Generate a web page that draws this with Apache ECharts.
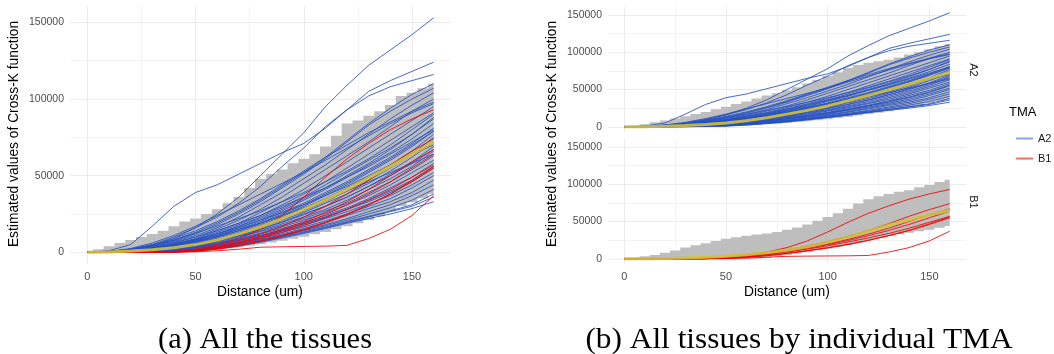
<!DOCTYPE html>
<html>
<head>
<meta charset="utf-8">
<script src="https://cdn.jsdelivr.net/npm/echarts@6/dist/echarts.min.js"></script>
<style>
html,body{margin:0;padding:0;background:#fff}
#main{width:1054px;height:354px}
</style>
</head>
<body>
<div id="main"></div>
<script>
// distances (um) for the curves, and finer ones for the envelopes
var dist = [0,10,20,30,40,50,60,70,80,90,100,110,120,130,140,150,160];
var distFine = [0,5,10,15,20,25,30,35,40,45,50,55,60,65,70,75,80,85,90,95,100,105,110,115,120,125,130,135,140,145,150,155,160];
var xTicks = [0,50,100,150];
var xMinor = [25,75,125];
var yTicks = [0,50000,100000,150000];
var yMinor = [25000,75000,125000];

// estimated K values (thousands) - TMA A2 tissues
var a2Lines = [
  [0,0.3,1.5,4,9,16,25,36,50,64,78,95,109,122,132,142,153],
  [0,1,5,17,30,39,44,51,58,65,71,81,93,105,112,118,124],
  [0,0.5,2,5,10,16,23,32,43,56,68,82,93,102,108,112,116],
  [0,0.5,2,4.5,8,13,19,26,34,43,52,62,73,84,94,103,110],
  [0,0.4,1.8,4,7.5,12,18,25,33,42,51,61,72,83,92,100,107],
  [0,0.3,1.5,3.5,7,11,16,23,31,39,48,57,67,77,87,96,104],
  [0,0.3,1.2,3,6,10,15,21,28,36,45,54,63,72,82,92,100],
  [0,0.2,1,2.8,5.5,9,14,19,26,33,41,50,59,68,77,86,95],
  [0,0.2,1,2.5,5,8.5,13,18,24,31,38,46,55,64,73,82,91],
  [0,0.2,0.9,2.3,4.6,8,12,17,23,29,36,44,52,60,68,77,87],
  [0,0.2,0.8,2,4.2,7.3,11,16,21,27,34,41,49,57,65,74,84],
  [0,0.1,0.7,1.9,4,7,10.5,15,20,26,32,39,46,54,62,71,81],
  [0,0.1,0.6,1.7,3.6,6.5,10,14,19,24,30,37,44,52,60,69,79],
  [0,0.1,0.6,1.6,3.4,6,9.2,13,18,23,29,35,42,49,57,66,77],
  [0,0.1,0.5,1.5,3.2,5.6,8.8,12.5,17,22,27,33,40,47,55,64,75],
  [0,0.1,0.5,1.4,3,5.3,8.3,12,16,21,26,32,38,45,53,62,72],
  [0,0.1,0.5,1.3,2.8,5,7.8,11,15,20,25,30,36,43,51,59,69],
  [0,0.1,0.4,1.2,2.6,4.6,7.3,10.5,14,18.5,23,28,34,41,48,56,66],
  [0,0.1,0.4,1.1,2.4,4.3,6.8,10,13.5,17.5,22,27,32,39,46,54,63],
  [0,0,0.3,1,2.2,4,6.3,9.3,12.5,16.5,21,25.5,31,37,44,52,60],
  [0,0,0.3,0.9,2,3.7,5.9,8.7,12,15.5,19.5,24,29,35,42,49,58],
  [0,0,0.3,0.8,1.8,3.4,5.5,8.2,11,14.5,18.5,23,28,33,39,46,55],
  [0,0,0.2,0.7,1.6,3.1,5,7.6,10.5,13.8,17.5,22,26.5,31.5,37,44,52],
  [0,0,0.2,0.6,1.4,2.8,4.6,7,9.8,13,16.5,20.5,25,30,35,42,50],
  [0,0,0.2,0.5,1.2,2.5,4.2,6.4,9,12,15.5,19.5,24,28.5,33,39,47],
  [0,0,0.1,0.4,1,2.2,3.8,5.9,8.4,11.3,14.5,18,22,26.5,31,37,44],
  [0,0,0.1,0.3,0.8,1.8,3.4,5.5,8,10.8,14,17.3,21,25,29,34,41],
  [0,0,0.1,0.3,0.6,1.5,3,5,7.5,10.3,13.3,16.5,20,23.5,27,31,38],
  [0,0,0,0.2,0.5,1.2,2.7,4.7,7,9.8,12.8,16,19.5,23,26.5,30,36],
  [0,0,0,0.1,0.3,0.8,2.2,4.2,6.5,9.3,12.3,15.5,19,22,25,28.5,33],
  [0,0.5,2,4.5,8,12.5,17,22,27,33,39,46,53,61,70,80,90],
  [0,0.4,1.5,3.5,6.5,10,14,19,24,30,36,42,49,56,64,72,80],
  [0,0.3,1.2,3,5.5,8.5,12,16,21,26,31,37,43,50,57,64,70],
  [0,0.3,1,2.5,4.8,7.5,11,15,19,24,29,34,40,46,52,58,64],
  [0,0.5,2.5,6,11,17,24,31,38,45,52,60,68,76,84,91,97],
  [0,0.4,2,5,9,14,20,27,35,44,53,62,70,78,85,92,98],
  [0,0.2,1,2.6,5,8,12,17,22,28,35,42,50,58,67,77,88],
  [0,0.1,0.6,1.8,3.8,6.6,10,14,19,25,31,38,45,53,61,70,79],
  [0,0.1,0.4,1.2,2.6,4.8,7.5,11,15,19.5,24.5,30,36,43,50,58,67],
  [0,0,0.2,0.7,1.7,3.2,5.3,8,11,14.5,18.5,23,28,34,40,47,56]
];

// estimated K values (thousands) - TMA B1 tissues
var b1Lines = [
  [0,0,0,0,0.5,2,5,9,15,24,36,49,61,71,80,87,93],
  [0,0,0,0,0.3,1.5,4,7.5,12,17,23,30,38,47,57,66,74],
  [0,0,0,0,0.3,1.2,3.5,6.5,10.5,15,20,26,33,41,50,59,67],
  [0,0,0,0,0.2,1,3,6,9.5,14,19,24.5,31,38,46,55,64],
  [0,0,0,0,0.2,1,2.8,5.5,9,13,17.5,22.5,28,34,41,49,57],
  [0,0,0,0,0.1,0.8,2.3,4.5,7.5,11,15,19.5,25,31,38,46,55],
  [0,0,0,0,0,0.3,1,2,3.3,3.6,3.8,4,4.5,9,15,24,37],
  [0,0,0,0,0.1,0.6,2,4,7,10.5,14.5,19,24.5,31,38,47,56]
];

// mean curves (thousands)
var meanAll = [0,0.2,0.8,1.7,3,5,8,12,16.5,22,28,34,41,48.5,56,64,72];
var meanA2 = [0,0.2,0.8,1.7,3,5,8,12,17,22,28,35,42,49.5,57,65,73];
var meanB1 = [0,0.1,0.4,1,2,3.5,5.5,8,11.5,16,22,29,37,45,52,59,65];

// envelopes (thousands), on distFine
var ribAllHi = [0,2,4,6,8,10,12,14,17,20,22,25,28,32,36,42,48,51,54,58,61,64,69,76,84,86,89,92,96,102,104,107,110];
var ribAllLo = [0,0,0,0,0,0,0,0,0,0.3,0.7,1.2,1.8,2.5,3.3,4.2,5.2,6.3,7.5,8.8,10.2,11.7,13.3,15,17,19,21,23.5,27,30,32.5,35,38];
var ribA2Hi = [0,1.5,3.5,6,8.5,11,14,17,20,23.5,27,30.5,34,38,42,45,49,53,58,63,68,73,79,83,86,88,90,93,97,100,104,108,111];
var ribA2Lo = [0,0,0,0,0,0,0,0,0,0.3,0.7,1.2,1.8,2.5,3.3,4.2,5.2,6.3,7.5,8.8,10.2,11.7,13.3,15,17,19,21,23.5,26,29,32,34.5,37];
var ribB1Hi = [0,1.5,3.5,5,8,11,15,18,21,24,27,29,31,32.5,34,36,39,42,46,51,56,61,67,74,80,84,87,90,92,96,99,103,106];
var ribB1Lo = [0,0,0,0,0,0,0,0,0,0,0,0,0,0.5,1.5,3,5,7,9,11,13.5,16,19,22,25,28,31,33,35,37,39,41.5,44];

var blue = '#2550c2';
var red = '#f20000';
var yellow = '#d2c035';
var font = 'Liberation Sans, Arial, sans-serif';

var chart = echarts.init(document.getElementById('main'));

function pairs(xs, ys) {
  return xs.map(function (x, i) { return [x, ys[i] * 1000]; });
}

// grid 0 = (a), grid 1 = (b) A2, grid 2 = (b) B1
var grids = [
  {left: 70, top: 6, width: 381, height: 258},
  {left: 608, top: 7, width: 358, height: 125.5},
  {left: 608, top: 139, width: 358, height: 125.5}
];

var xAxes = [], yAxes = [];
// main axes 0..2, minor grid axes 3..5
[0, 1, 2].forEach(function (g) {
  xAxes.push({
    gridIndex: g, type: 'value', min: -8, max: 168,
    axisLine: {show: false},
    axisTick: {show: false, customValues: xTicks},
    axisLabel: {show: g !== 1, customValues: xTicks, color: '#4d4d4d', fontSize: 11, fontFamily: font, margin: 7},
    splitLine: {lineStyle: {color: '#ebebeb', width: 1}}
  });
  yAxes.push({
    gridIndex: g, type: 'value', min: -7650, max: 160650,
    axisLine: {show: false},
    axisTick: {show: false, customValues: yTicks},
    axisLabel: {customValues: yTicks, color: '#4d4d4d', fontSize: 10.5, fontFamily: font, margin: 6,
      formatter: function (v) { return String(v); }},
    splitLine: {lineStyle: {color: '#ebebeb', width: 1}}
  });
});
[0, 1, 2].forEach(function (g) {
  xAxes.push({
    gridIndex: g, type: 'value', min: -8, max: 168, position: 'top',
    axisLine: {show: false}, axisLabel: {show: false},
    axisTick: {show: false, customValues: xMinor},
    splitLine: {lineStyle: {color: '#f3f3f3', width: 1}}
  });
  yAxes.push({
    gridIndex: g, type: 'value', min: -7650, max: 160650, position: 'right',
    axisLine: {show: false}, axisLabel: {show: false},
    axisTick: {show: false, customValues: yMinor},
    splitLine: {lineStyle: {color: '#f3f3f3', width: 1}}
  });
});

var series = [];

// grey envelope as one stepped polygon (upper edge forward, lower edge back)
function addRibbon(g, lo, hi) {
  var n = distFine.length;
  function edges(i) {
    var l = i === 0 ? distFine[0] : (distFine[i - 1] + distFine[i]) / 2;
    var r = i === n - 1 ? distFine[n - 1] : (distFine[i] + distFine[i + 1]) / 2;
    return [l, r];
  }
  series.push({
    type: 'custom', xAxisIndex: g, yAxisIndex: g, silent: true, z: 1,
    data: pairs(distFine, hi),
    renderItem: function (params, api) {
      if (params.dataIndex !== 0) return;
      var pts = [];
      for (var i = 0; i < n; i++) {
        var e = edges(i);
        pts.push(api.coord([e[0], hi[i] * 1000]));
        pts.push(api.coord([e[1], hi[i] * 1000]));
      }
      for (var j = n - 1; j >= 0; j--) {
        var f = edges(j);
        pts.push(api.coord([f[1], lo[j] * 1000]));
        pts.push(api.coord([f[0], lo[j] * 1000]));
      }
      return {type: 'polygon', shape: {points: pts}, style: {fill: '#bebebe'}};
    }
  });
}

function addLines(g, lines, name, color) {
  lines.forEach(function (ys) {
    series.push({
      name: name, type: 'line', xAxisIndex: g, yAxisIndex: g,
      data: pairs(dist, ys), symbol: 'none', silent: true,
      lineStyle: {color: color, width: 1, opacity: 0.85}, itemStyle: {color: color}, z: 2
    });
  });
}

function addMean(g, ys) {
  series.push({
    type: 'line', xAxisIndex: g, yAxisIndex: g,
    data: pairs(dist, ys), symbol: 'none', silent: true,
    lineStyle: {color: yellow, width: 3, opacity: 0.9}, z: 3
  });
}

addRibbon(0, ribAllLo, ribAllHi);
addLines(0, a2Lines, 'A2', blue);
addLines(0, b1Lines, 'B1', red);
addMean(0, meanAll);

addRibbon(1, ribA2Lo, ribA2Hi);
addLines(1, a2Lines, 'A2', blue);
addMean(1, meanA2);

addRibbon(2, ribB1Lo, ribB1Hi);
addLines(2, b1Lines, 'B1', red);
addMean(2, meanB1);

function txt(x, y, s, opt) {
  return {
    type: 'text', x: x, y: y, rotation: opt.rot || 0, scaleX: opt.sx || 1, silent: true,
    style: {text: s, fill: opt.color || '#000', font: opt.font,
      align: opt.align || 'center', verticalAlign: 'middle'}
  };
}

var option = {
  animation: false,
  backgroundColor: '#fff',
  grid: grids,
  xAxis: xAxes,
  yAxis: yAxes,
  legend: {
    data: [
      {name: 'A2', icon: 'rect', itemStyle: {color: '#8aa3e6'}},
      {name: 'B1', icon: 'rect', itemStyle: {color: '#ff6a6a'}}
    ],
    orient: 'vertical', left: 1011, top: 128,
    itemWidth: 17, itemHeight: 2, itemGap: 9,
    textStyle: {fontSize: 11, color: '#1a1a1a', fontFamily: font},
    selectedMode: false
  },
  graphic: [
    txt(14, 134, 'Estimated values of Cross-K function', {rot: Math.PI / 2, font: '13.8px ' + font}),
    txt(260, 292, 'Distance (um)', {font: '13.8px ' + font}),
    txt(552, 134, 'Estimated values of Cross-K function', {rot: Math.PI / 2, font: '13.8px ' + font}),
    txt(787, 292, 'Distance (um)', {font: '13.8px ' + font}),
    txt(973, 70, 'A2', {rot: -Math.PI / 2, font: '11px ' + font, color: '#1a1a1a'}),
    txt(973, 202, 'B1', {rot: -Math.PI / 2, font: '11px ' + font, color: '#1a1a1a'}),
    txt(1009, 112, 'TMA', {align: 'left', font: '13px ' + font}),
    txt(265, 340, '(a) All the tissues', {font: '29px "Liberation Serif", serif', sx: 1.05}),
    txt(799, 340, '(b) All tissues by individual TMA', {font: '29px "Liberation Serif", serif', sx: 1.08})
  ],
  series: series
};

chart.setOption(option);
</script>
</body>
</html>
